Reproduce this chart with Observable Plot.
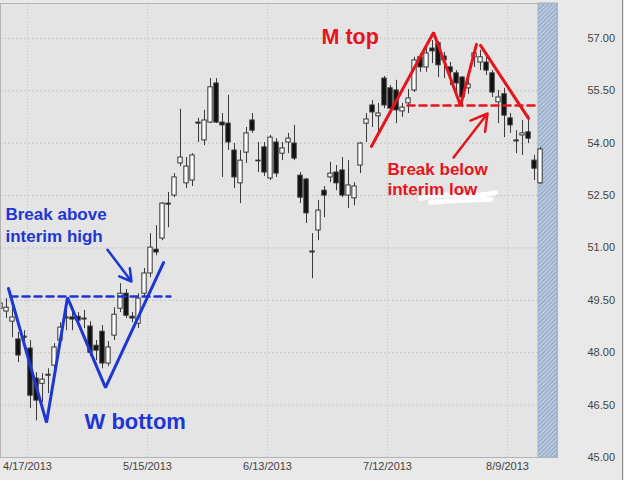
<!DOCTYPE html>
<html><head><meta charset="utf-8">
<script src="https://cdn.jsdelivr.net/npm/d3@7"></script>
<script src="https://cdn.jsdelivr.net/npm/@observablehq/plot@0.6"></script>
<style>
html,body{margin:0;padding:0;background:#e9e9e9;}
#chart{width:624px;height:480px;overflow:hidden;}
</style></head><body><div id="chart"></div>
<script>
// Trading days (categories)
const dates = [
"4/11/2013","4/12/2013","4/15/2013","4/16/2013","4/17/2013","4/18/2013","4/19/2013","4/22/2013","4/23/2013","4/24/2013","4/25/2013","4/26/2013","4/29/2013","4/30/2013",
"5/1/2013","5/2/2013","5/3/2013","5/6/2013","5/7/2013","5/8/2013","5/9/2013","5/10/2013","5/13/2013","5/14/2013","5/15/2013","5/16/2013","5/17/2013","5/20/2013","5/21/2013","5/22/2013","5/23/2013","5/24/2013","5/28/2013","5/29/2013","5/30/2013","5/31/2013",
"6/3/2013","6/4/2013","6/5/2013","6/6/2013","6/7/2013","6/10/2013","6/11/2013","6/12/2013","6/13/2013","6/14/2013","6/17/2013","6/18/2013","6/19/2013","6/20/2013","6/21/2013","6/24/2013","6/25/2013","6/26/2013","6/27/2013","6/28/2013",
"7/1/2013","7/2/2013","7/3/2013","7/5/2013","7/8/2013","7/9/2013","7/10/2013","7/11/2013","7/12/2013","7/15/2013","7/16/2013","7/17/2013","7/18/2013","7/19/2013","7/22/2013","7/23/2013","7/24/2013","7/25/2013","7/26/2013","7/29/2013","7/30/2013","7/31/2013",
"8/1/2013","8/2/2013","8/5/2013","8/6/2013","8/7/2013","8/8/2013","8/9/2013","8/12/2013","8/13/2013","8/14/2013","8/15/2013","8/16/2013","8/19/2013"];

const open = [49.26,49.18,48.89,48.38,48.46,48.12,47.26,47.11,47.34,47.63,48.35,48.98,49.01,49.03,
48.95,48.75,48.20,48.60,47.69,48.49,49.26,49.69,49.03,48.83,49.69,50.27,50.95,51.27,52.27,52.50,53.42,52.85,52.93,54.59,54.08,54.59,
55.71,54.59,54.56,53.79,52.85,53.73,54.65,53.50,53.88,52.99,54.02,53.70,54.02,53.99,53.07,52.96,50.87,51.50,52.64,53.02,
53.16,53.22,52.50,52.42,53.36,54.56,55.08,54.77,55.85,55.57,55.51,54.91,55.14,55.51,56.46,56.17,56.71,56.86,56.48,56.17,56.00,55.88,
55.57,56.46,56.31,56.31,56.00,55.17,55.40,54.71,54.08,54.22,54.31,53.50,52.85];
const high = [49.58,49.55,49.29,48.58,48.63,48.35,47.43,47.40,47.54,48.26,48.86,49.21,49.26,49.15,
49.21,48.89,48.35,48.78,48.32,49.29,49.98,49.81,49.15,49.69,50.41,51.41,51.64,52.30,52.59,53.13,54.97,53.59,53.70,54.71,54.94,55.85,
55.85,54.85,55.37,53.99,53.79,54.45,54.85,54.02,54.02,54.22,54.13,54.02,54.28,54.51,53.16,52.99,51.41,52.36,52.76,53.45,
53.36,53.59,53.50,52.87,54.02,54.85,55.22,55.14,55.91,55.65,55.80,55.14,55.54,56.46,56.57,56.74,56.94,56.91,56.60,56.31,56.08,55.91,
55.94,56.74,56.66,56.57,56.08,55.51,55.57,54.85,54.36,54.65,54.79,53.65,53.88];
const low = [49.09,48.98,48.43,47.72,48.20,46.40,46.05,46.57,46.83,47.26,48.20,48.63,48.63,48.75,
48.69,47.89,47.77,47.54,47.60,48.35,49.15,48.98,48.86,48.69,49.58,50.15,50.78,51.21,51.58,52.44,53.33,52.70,52.76,54.02,53.93,54.56,
54.56,53.02,53.79,52.70,52.27,53.42,54.28,53.16,53.05,52.93,53.02,53.50,53.70,53.50,52.27,51.70,50.12,51.21,51.87,52.87,
52.64,52.44,52.13,52.21,53.13,54.02,54.45,54.28,54.99,54.85,54.56,54.74,54.85,55.45,56.03,56.03,56.28,55.88,55.85,55.65,55.45,55.02,
55.40,56.17,56.08,55.94,55.31,54.56,54.16,54.28,53.70,53.65,53.99,52.93,52.82];
const close = [49.41,49.29,49.01,47.92,48.43,46.77,46.63,47.23,47.37,48.15,48.72,49.01,48.95,48.92,
48.98,48.00,48.06,47.69,48.15,49.09,49.69,49.06,48.98,49.55,50.27,51.01,50.87,52.27,52.24,53.02,53.59,53.33,53.65,54.56,54.65,55.60,
54.59,54.51,54.02,53.02,53.50,54.28,54.36,53.48,53.16,54.16,53.13,53.85,54.13,53.56,52.44,51.99,50.90,52.07,52.50,53.13,
52.85,52.50,52.79,52.76,53.99,54.68,54.88,54.85,55.08,54.99,54.94,55.02,55.28,56.37,56.17,56.57,56.63,56.23,56.37,56.03,55.71,55.31,
55.68,56.57,56.46,56.08,55.45,55.31,54.79,54.51,54.05,54.28,54.13,53.27,53.82];

// Axis ticks
const xTickDates = ["4/17/2013","5/15/2013","6/13/2013","7/12/2013","8/9/2013"];
const yTicks = [45,46.5,48,49.5,51,52.5,54,55.5,57];
const xDomain = [0, 92.83];
const yDomain = [45, 58];
const shade = [{start: 89.67, end: 92.83}];

// Annotations (x = trading-day index, y = price)
const wPath = [{k:1.33,p:49.84},{k:7.67,p:46.00},{k:11.17,p:49.58},{k:17.5,p:47.00},{k:27.17,p:50.58}];
const blueDash = [{k:1.67,p:49.61},{k:28.33,p:49.61}];
const blueArrow = [{k1:17.83,p1:50.95,k2:21.83,p2:50.04}];
const mPath = [{k:61.83,p:53.91},{k:72.17,p:57.17},{k:76.67,p:55.08},{k:79.33,p:56.83}];
const mPath2 = [{k:80,p:56.80},{k:88,p:54.71}];
const redDash = [{k:67.83,p:55.08},{k:89.17,p:55.08}];
const redArrow = [{k1:75.5,p1:53.59,k2:81.17,p2:54.85}];
const scribble = [{k:70,p:52.42,g:1},{k:74.2,p:52.55,g:1},{k:78.3,p:52.46,g:1},{k:82.5,p:52.58,g:1},
                  {k:71.7,p:52.31,g:2},{k:76,p:52.36,g:2},{k:81.7,p:52.39,g:2}];
const blueLabels = [{k:0.83,p:51.81,t:"Break above",s:17},{k:0.83,p:51.18,t:"interim high",s:17},{k:14,p:45.83,t:"W bottom",s:22}];
const redLabels = [{k:53.5,p:56.83,t:"M top",s:21.5},{k:64.5,p:53.10,t:"Break below",s:17},{k:64.5,p:52.53,t:"interim low",s:17}];

const BLUE = "#1d36d6", RED = "#e8141c";

const candles = dates.map((d,i) => ({i, date:d, open:open[i], high:high[i], low:low[i], close:close[i]}));
const tickPos = xTickDates.map(d => dates.indexOf(d) + 0.5);
const labelAt = new Map(tickPos.map((p,j) => [p, xTickDates[j]]));

const plot = Plot.plot({
  width: 624, height: 480,
  marginTop: 3, marginBottom: 23, marginLeft: 0, marginRight: 67,
  style: {background: "transparent", fontFamily: "'Liberation Sans', Arial, sans-serif", fontSize: "11px", color: "#444"},
  x: {type: "linear", domain: xDomain, axis: null},
  y: {domain: yDomain, axis: null},
  marks: [
    Plot.frame({fill: "#e4e4e4", stroke: null}),
    Plot.gridY(yTicks, {stroke: "#c6c6c6", strokeOpacity: 1, strokeDasharray: "2,2"}),
    Plot.gridX(tickPos, {stroke: "#c6c6c6", strokeOpacity: 1, strokeDasharray: "1,2"}),
    Plot.rect(shade, {x1: "start", x2: "end", y1: yDomain[0], y2: yDomain[1], fill: "url(#hatch)", stroke: "#9db0ca", strokeWidth: 1}),
    Plot.ruleX(candles, {x: "i", y1: "low", y2: "high", stroke: "#3a3a3a", strokeWidth: 1}),
    Plot.rect(candles, {x1: d => d.i - 0.36, x2: d => d.i + 0.36, y1: "open", y2: "close",
      fill: d => d.close >= d.open ? "#ffffff" : "#111111", stroke: "#333", strokeWidth: 1}),
    // blue W
    Plot.line(wPath, {x: "k", y: "p", stroke: BLUE, strokeWidth: 3, strokeLinejoin: "miter"}),
    Plot.line(blueDash, {x: "k", y: "p", stroke: BLUE, strokeWidth: 2.5, strokeDasharray: "7,5"}),
    Plot.arrow(blueArrow, {x1: "k1", y1: "p1", x2: "k2", y2: "p2", stroke: BLUE, strokeWidth: 2.5, headLength: 14}),
    // red M
    Plot.line(mPath, {x: "k", y: "p", stroke: RED, strokeWidth: 3, strokeLinejoin: "miter"}),
    Plot.line(mPath2, {x: "k", y: "p", stroke: RED, strokeWidth: 3}),
    Plot.line(redDash, {x: "k", y: "p", stroke: RED, strokeWidth: 2.5, strokeDasharray: "7,5"}),
    Plot.arrow(redArrow, {x1: "k1", y1: "p1", x2: "k2", y2: "p2", stroke: RED, strokeWidth: 2.5, headLength: 14}),
    Plot.line(scribble, {x: "k", y: "p", z: "g", stroke: "#ffffff", strokeWidth: 5, curve: "basis", strokeOpacity: 0.95}),
    Plot.text(blueLabels, {x: "k", y: "p", text: "t", fill: BLUE, fontWeight: "bold", fontSize: d => d.s, textAnchor: "start", lineAnchor: "bottom"}),
    Plot.text(redLabels, {x: "k", y: "p", text: "t", fill: RED, fontWeight: "bold", fontSize: d => d.s, textAnchor: "start", lineAnchor: "bottom"}),
    Plot.axisY(yTicks, {anchor: "right", tickSize: 0, tickPadding: 30, textAnchor: "start", tickFormat: d => d.toFixed(2), fill: "#444", fontSize: 11}),
    Plot.axisX(tickPos, {anchor: "bottom", tickSize: 0, tickPadding: 5, tickFormat: d => labelAt.get(d), fill: "#444", fontSize: 11}),
    Plot.frame({stroke: "#b4b4b4"})
  ]
});

const svg = d3.select(plot);
const defs = svg.insert("defs", ":first-child");
const pat = defs.append("pattern").attr("id", "hatch").attr("patternUnits", "userSpaceOnUse")
  .attr("width", 3).attr("height", 3).attr("patternTransform", "rotate(45)");
pat.append("rect").attr("width", 3).attr("height", 3).attr("fill", "#bccbe0");
pat.append("line").attr("x1", 0.5).attr("y1", 0).attr("x2", 0.5).attr("y2", 3).attr("stroke", "#8ea6c6").attr("stroke-width", 1.2);
svg.append("line").attr("x1", 622.5).attr("x2", 622.5).attr("y1", 0).attr("y2", 480).attr("stroke", "#8a8a8a").attr("stroke-width", 1);

document.getElementById("chart").append(plot);
</script></body></html>
